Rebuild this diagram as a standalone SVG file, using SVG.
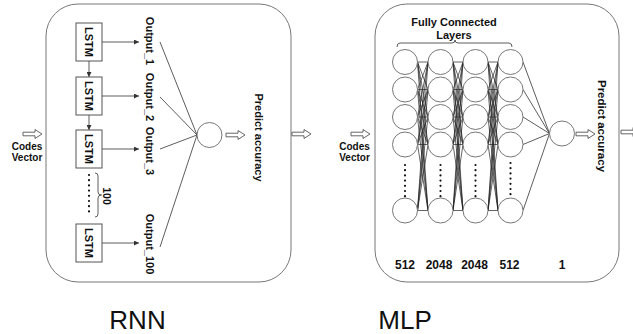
<svg xmlns="http://www.w3.org/2000/svg" xmlns:xlink="http://www.w3.org/1999/xlink" width="633" height="334" viewBox="0 0 633 334">
<style>
.panel{fill:#fff;stroke:#777;stroke-width:1}
.box{fill:#fff;stroke:#555;stroke-width:1}
.node{fill:#fff;stroke:#777;stroke-width:1}
.ln{fill:none;stroke:#333;stroke-width:0.8}
.fc{fill:none;stroke:#222;stroke-width:0.7}
.harrow{fill:#fff;stroke:#555;stroke-width:0.9}
.b{font-family:"Liberation Sans",Arial,sans-serif;font-weight:bold;fill:#111}
.big{font-family:"Liberation Sans",Arial,sans-serif;font-size:26px;fill:#111;text-anchor:middle}
.dots{stroke:#111;stroke-width:2.2;stroke-linecap:round;stroke-dasharray:0 5.2;fill:none}
</style>
<defs>
<marker id="ah" viewBox="0 0 6 6" refX="6" refY="3" markerWidth="5" markerHeight="5" orient="auto" markerUnits="userSpaceOnUse">
<path d="M0,0 L6,3 L0,6 Z" fill="#333"/>
</marker>
<path id="hollow" class="harrow" d="M0,-1.8 H12 V-4.5 L19,0 L12,4.5 V1.8 H0 Z"/>
</defs>
<rect width="633" height="334" fill="#fff"/>

<g id="rnn-panel"><rect class="panel" x="46" y="4" width="245" height="278" rx="32" ry="32"/></g>
<g id="mlp-panel"><rect class="panel" x="375" y="4" width="244" height="278" rx="32" ry="32"/></g>

<g id="connectors">
<use xlink:href="#hollow" x="23" y="134"/>
<use xlink:href="#hollow" x="292" y="134"/>
<use xlink:href="#hollow" x="226" y="135"/>
<use xlink:href="#hollow" x="351" y="134"/>
<use xlink:href="#hollow" x="576" y="134"/>
<use xlink:href="#hollow" x="621" y="132"/>
<line class="ln" x1="89" y1="61" x2="89" y2="77" marker-end="url(#ah)"/>
<line class="ln" x1="89" y1="115" x2="89" y2="130" marker-end="url(#ah)"/>
<line class="ln" x1="102" y1="42" x2="139" y2="42" marker-end="url(#ah)"/>
<line class="ln" x1="102" y1="96" x2="139" y2="96" marker-end="url(#ah)"/>
<line class="ln" x1="102" y1="149" x2="139" y2="149" marker-end="url(#ah)"/>
<line class="ln" x1="102" y1="243" x2="139" y2="243" marker-end="url(#ah)"/>
<path class="ln" d="M160,42 L197,135 M160,97 L197,135 M160,149 L197,135 M160,247 L197,135"/>
<path class="fc" d="M417.5 62L428 62M417.5 62L428 89.5M417.5 62L428 117M417.5 62L428 144.5M417.5 62L428 210.5M417.5 89.5L428 62M417.5 89.5L428 89.5M417.5 89.5L428 117M417.5 89.5L428 144.5M417.5 89.5L428 210.5M417.5 117L428 62M417.5 117L428 89.5M417.5 117L428 117M417.5 117L428 144.5M417.5 117L428 210.5M417.5 144.5L428 62M417.5 144.5L428 89.5M417.5 144.5L428 117M417.5 144.5L428 144.5M417.5 144.5L428 210.5M417.5 210.5L428 62M417.5 210.5L428 89.5M417.5 210.5L428 117M417.5 210.5L428 144.5M417.5 210.5L428 210.5"/>
<path class="fc" d="M453 62L463 62M453 62L463 89.5M453 62L463 117M453 62L463 144.5M453 62L463 210.5M453 89.5L463 62M453 89.5L463 89.5M453 89.5L463 117M453 89.5L463 144.5M453 89.5L463 210.5M453 117L463 62M453 117L463 89.5M453 117L463 117M453 117L463 144.5M453 117L463 210.5M453 144.5L463 62M453 144.5L463 89.5M453 144.5L463 117M453 144.5L463 144.5M453 144.5L463 210.5M453 210.5L463 62M453 210.5L463 89.5M453 210.5L463 117M453 210.5L463 144.5M453 210.5L463 210.5"/>
<path class="fc" d="M488 62L498 62M488 62L498 89.5M488 62L498 117M488 62L498 144.5M488 62L498 210.5M488 89.5L498 62M488 89.5L498 89.5M488 89.5L498 117M488 89.5L498 144.5M488 89.5L498 210.5M488 117L498 62M488 117L498 89.5M488 117L498 117M488 117L498 144.5M488 117L498 210.5M488 144.5L498 62M488 144.5L498 89.5M488 144.5L498 117M488 144.5L498 144.5M488 144.5L498 210.5M488 210.5L498 62M488 210.5L498 89.5M488 210.5L498 117M488 210.5L498 144.5M488 210.5L498 210.5"/>
<path class="ln" d="M523,62 L549.5,133.5 M523,89.5 L549.5,133.5 M523,117 L549.5,133.5 M523,144.5 L549.5,133.5 M523,210.5 L549.5,133.5"/>
</g>

<g id="rnn-input" class="b" font-size="10" text-anchor="middle">
<text x="27" y="150">Codes</text>
<text x="27" y="161">Vector</text>
</g>

<g id="lstm-1"><rect class="box" x="76" y="23" width="26" height="38"/><text class="b" font-size="11" text-anchor="middle" transform="translate(89,42) rotate(90)" dy="4">LSTM</text></g>
<g id="lstm-2"><rect class="box" x="76" y="77" width="26" height="38"/><text class="b" font-size="11" text-anchor="middle" transform="translate(89,96) rotate(90)" dy="4">LSTM</text></g>
<g id="lstm-3"><rect class="box" x="76" y="130" width="26" height="38"/><text class="b" font-size="11" text-anchor="middle" transform="translate(89,149) rotate(90)" dy="4">LSTM</text></g>
<g id="lstm-100"><rect class="box" x="76" y="224" width="26" height="38"/><text class="b" font-size="11" text-anchor="middle" transform="translate(89,243) rotate(90)" dy="4">LSTM</text></g>

<g id="rnn-ellipsis">
<line class="dots" x1="89" y1="175" x2="89" y2="216" stroke-dasharray="0 8"/>
<path class="ln" d="M95,173 Q98,173 98,176 L98,192 Q98,195 101.5,195 Q98,195 98,198 L98,214 Q98,217 95,217"/>
<text class="b" font-size="10.5" text-anchor="middle" transform="translate(107,196) rotate(90)" dy="4">100</text>
</g>

<g id="outputs" class="b" font-size="11" text-anchor="middle">
<text transform="translate(150,41) rotate(90)" dy="4">Output_1</text>
<text transform="translate(150,97) rotate(90)" dy="4">Output_2</text>
<text transform="translate(150,151) rotate(90)" dy="4">Output_3</text>
<text transform="translate(150,244) rotate(90)" dy="4">Output_100</text>
</g>

<g id="rnn-out"><circle class="node" cx="209.5" cy="135" r="12.5"/></g>
<g id="rnn-predict"><text class="b" font-size="11" text-anchor="middle" transform="translate(259,137.5) rotate(90)" dy="4">Predict accuracy</text></g>

<g id="mlp-input" class="b" font-size="10" text-anchor="middle">
<text x="354.5" y="150">Codes</text>
<text x="354.5" y="161">Vector</text>
</g>

<g id="fc-label">
<text class="b" font-size="11" text-anchor="middle" x="454" y="25.5">Fully Connected</text>
<text class="b" font-size="11" text-anchor="middle" x="454" y="38.5">Layers</text>
<path class="ln" d="M397,47 Q397,43 400,43 L452,43 Q455,43 455,40 Q455,43 458,43 L509,43 Q512,43 512,47"/>
</g>

<g id="layer-512a">
<circle class="node" cx="405" cy="62" r="12.5"/><circle class="node" cx="405" cy="89.5" r="12.5"/><circle class="node" cx="405" cy="117" r="12.5"/><circle class="node" cx="405" cy="144.5" r="12.5"/><circle class="node" cx="405" cy="210.5" r="12.5"/>
<line class="dots" x1="405" y1="165" x2="405" y2="197"/>
</g>
<g id="layer-2048a">
<circle class="node" cx="440.5" cy="62" r="12.5"/><circle class="node" cx="440.5" cy="89.5" r="12.5"/><circle class="node" cx="440.5" cy="117" r="12.5"/><circle class="node" cx="440.5" cy="144.5" r="12.5"/><circle class="node" cx="440.5" cy="210.5" r="12.5"/>
<line class="dots" x1="440.5" y1="165" x2="440.5" y2="197"/>
</g>
<g id="layer-2048b">
<circle class="node" cx="475.5" cy="62" r="12.5"/><circle class="node" cx="475.5" cy="89.5" r="12.5"/><circle class="node" cx="475.5" cy="117" r="12.5"/><circle class="node" cx="475.5" cy="144.5" r="12.5"/><circle class="node" cx="475.5" cy="210.5" r="12.5"/>
<line class="dots" x1="475.5" y1="165" x2="475.5" y2="197"/>
</g>
<g id="layer-512b">
<circle class="node" cx="510.5" cy="62" r="12.5"/><circle class="node" cx="510.5" cy="89.5" r="12.5"/><circle class="node" cx="510.5" cy="117" r="12.5"/><circle class="node" cx="510.5" cy="144.5" r="12.5"/><circle class="node" cx="510.5" cy="210.5" r="12.5"/>
<line class="dots" x1="510.5" y1="163" x2="510.5" y2="195"/>
</g>
<g id="mlp-out"><circle class="node" cx="562" cy="133.5" r="12.5"/></g>
<g id="mlp-predict"><text class="b" font-size="11.5" text-anchor="middle" transform="translate(602,126) rotate(90)" dy="4">Predict accuracy</text></g>

<g id="layer-sizes" class="b" font-size="12" text-anchor="middle">
<text x="405" y="269">512</text>
<text x="439" y="269">2048</text>
<text x="474.5" y="269">2048</text>
<text x="509.5" y="269">512</text>
<text x="562" y="269">1</text>
</g>

<g id="captions">
<text class="big" x="137.5" y="329">RNN</text>
<text class="big" x="405" y="329">MLP</text>
</g>
</svg>
